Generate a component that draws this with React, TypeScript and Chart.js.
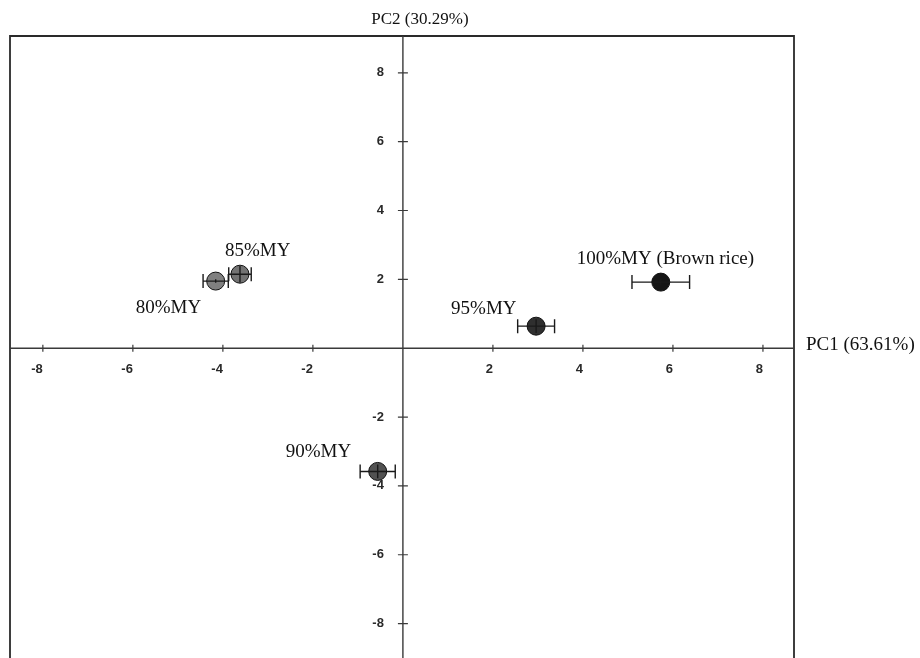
import React, { useEffect, useRef } from "react";
import { Chart, registerables } from "chart.js";

Chart.register(...registerables);

const groups = ["80%MY", "85%MY", "90%MY", "95%MY", "100%MY (Brown rice)"];
const pc1 = [-4.16, -3.62, -0.56, 2.96, 5.73];
const pc2 = [1.95, 2.15, -3.58, 0.64, 1.92];
const pc1Err = [0.28, 0.25, 0.39, 0.41, 0.64];
const pc2Err = [0.05, 0.24, 0.2, 0.2, 0.1];
const fills = ["#808080", "#737373", "#525252", "#2f2f2f", "#151515"];
const xTicks = [-8, -6, -4, -2, 2, 4, 6, 8];
const yTicks = [8, 6, 4, 2, -2, -4, -6, -8];
const xTitle = "PC1 (63.61%)";
const yTitle = "PC2 (30.29%)";
// label placement relative to each point, in pixels (dx to text start, dy to baseline)
const labelOffsets: [number, number][] = [
  [-80, 32],
  [-15, -18],
  [-92, -14],
  [-85, -12],
  [-84, -18],
];

const pcaPlugin = {
  id: "pcaPlugin",
  beforeDatasetsDraw(chart: any) {
    const { ctx, chartArea: a, scales } = chart;
    const xs = scales.x;
    const ys = scales.y;
    const x0 = xs.getPixelForValue(0);
    const y0 = ys.getPixelForValue(0);
    ctx.save();
    // frame (left, top, right)
    ctx.strokeStyle = "#2a2a2a";
    ctx.lineWidth = 1.8;
    ctx.beginPath();
    ctx.moveTo(a.left, a.bottom + 2);
    ctx.lineTo(a.left, a.top);
    ctx.lineTo(a.right, a.top);
    ctx.lineTo(a.right, a.bottom + 2);
    ctx.stroke();
    // axes through origin
    ctx.strokeStyle = "#3a3a3a";
    ctx.lineWidth = 1.4;
    ctx.beginPath();
    ctx.moveTo(a.left, y0);
    ctx.lineTo(a.right, y0);
    ctx.moveTo(x0, a.top);
    ctx.lineTo(x0, a.bottom + 2);
    ctx.stroke();
    // tick marks
    ctx.lineWidth = 1.2;
    ctx.beginPath();
    xTicks.forEach((v) => {
      const px = xs.getPixelForValue(v);
      ctx.moveTo(px, y0 - 3.5);
      ctx.lineTo(px, y0 + 3.5);
    });
    yTicks.forEach((v) => {
      const py = ys.getPixelForValue(v);
      ctx.moveTo(x0 - 5, py);
      ctx.lineTo(x0 + 5, py);
    });
    ctx.stroke();
    // tick labels
    ctx.fillStyle = "#2a2a2a";
    ctx.font = "bold 13px 'Liberation Sans', Arial, sans-serif";
    ctx.textAlign = "right";
    ctx.textBaseline = "middle";
    xTicks.forEach((v) => {
      ctx.fillText(String(v), xs.getPixelForValue(v), y0 + 21);
    });
    ctx.textAlign = "right";
    yTicks.forEach((v) => {
      ctx.fillText(String(v), x0 - 19, ys.getPixelForValue(v));
    });
    ctx.restore();
  },
  afterDatasetsDraw(chart: any) {
    const { ctx, scales } = chart;
    const xs = scales.x;
    const ys = scales.y;
    ctx.save();
    ctx.strokeStyle = "#1a1a1a";
    ctx.lineWidth = 1.4;
    ctx.beginPath();
    pc1.forEach((xv, i) => {
      const yv = pc2[i];
      const cy = ys.getPixelForValue(yv);
      const cx = xs.getPixelForValue(xv);
      const xl = xs.getPixelForValue(xv - pc1Err[i]);
      const xr = xs.getPixelForValue(xv + pc1Err[i]);
      ctx.moveTo(xl, cy);
      ctx.lineTo(xr, cy);
      ctx.moveTo(xl, cy - 7);
      ctx.lineTo(xl, cy + 7);
      ctx.moveTo(xr, cy - 7);
      ctx.lineTo(xr, cy + 7);
      const yt = ys.getPixelForValue(yv + pc2Err[i]);
      const yb = ys.getPixelForValue(yv - pc2Err[i]);
      ctx.moveTo(cx, yt);
      ctx.lineTo(cx, yb);
    });
    ctx.stroke();
    ctx.restore();
  },
  afterDraw(chart: any) {
    const { ctx, chartArea: a, scales } = chart;
    const xs = scales.x;
    const ys = scales.y;
    ctx.save();
    ctx.fillStyle = "#111";
    ctx.font = "19px 'Liberation Serif', 'Times New Roman', serif";
    ctx.textAlign = "left";
    ctx.textBaseline = "alphabetic";
    groups.forEach((g, i) => {
      const px = xs.getPixelForValue(pc1[i]) + labelOffsets[i][0];
      const py = ys.getPixelForValue(pc2[i]) + labelOffsets[i][1];
      ctx.fillText(g, px, py);
    });
    ctx.font = "17px 'Liberation Serif', 'Times New Roman', serif";
    ctx.textAlign = "center";
    ctx.fillText(yTitle, xs.getPixelForValue(0) + 17, a.top - 12);
    ctx.textAlign = "left";
    ctx.font = "19px 'Liberation Serif', 'Times New Roman', serif";
    ctx.fillText(xTitle, a.right + 12, ys.getPixelForValue(0) + 2);
    ctx.restore();
  },
};

export default function App() {
  const ref = useRef<HTMLCanvasElement | null>(null);
  useEffect(() => {
    if (!ref.current) return;
    const chart = new Chart(ref.current, {
      type: "scatter",
      data: {
        datasets: [
          {
            data: pc1.map((x, i) => ({ x, y: pc2[i] })),
            pointRadius: 9,
            pointHoverRadius: 9,
            pointBackgroundColor: fills,
            pointBorderColor: "#111",
            pointBorderWidth: 1,
          },
        ],
      },
      options: {
        responsive: false,
        animation: false,
        devicePixelRatio: 1,
        layout: { autoPadding: false, padding: { left: 10, right: 126, top: 36, bottom: 0 } },
        plugins: { legend: { display: false }, tooltip: { enabled: false } },
        scales: {
          x: { type: "linear", display: false, min: -8.73, max: 8.69 },
          y: { type: "linear", display: false, min: -9.0, max: 9.07 },
        },
      },
      plugins: [pcaPlugin],
    });
    return () => chart.destroy();
  }, []);
  return (
    <div style={{ position: "fixed", left: 0, top: 0, width: 920, height: 658, background: "#fff" }}>
      <canvas ref={ref} width={920} height={658} style={{ display: "block" }} />
    </div>
  );
}
